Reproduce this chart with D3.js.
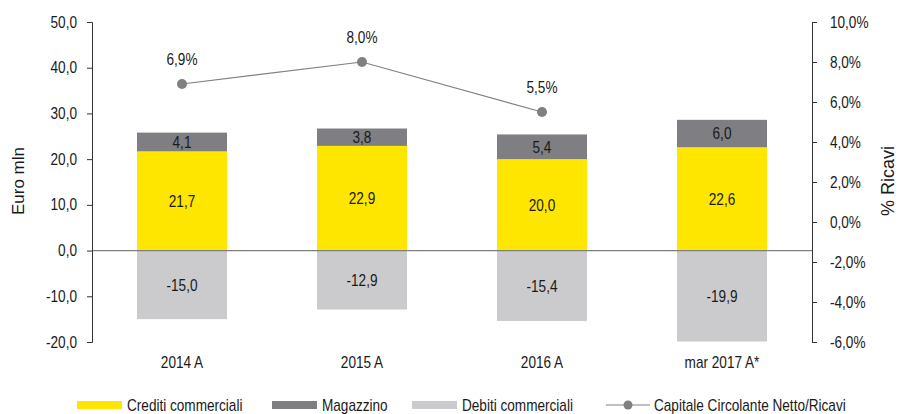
<!DOCTYPE html>
<html>
<head>
<meta charset="utf-8">
<script src="https://cdn.jsdelivr.net/npm/d3@7"></script>
<style>
  body { margin: 0; background: #fff; }
  svg text { font-family: "Liberation Sans Narrow", "Arial Narrow", "Liberation Sans", Arial, sans-serif; }
</style>
</head>
<body>
<div id="chart"></div>
<script>
var width = 899;
var height = 414;

// data
var categories = ["2014 A", "2015 A", "2016 A", "mar 2017 A*"];
var crediti = [21.7, 22.9, 20.0, 22.6];
var magazzino = [4.1, 3.8, 5.4, 6.0];
var debiti = [-15.0, -12.9, -15.4, -19.9];
var ccnRicavi = [6.9, 8.0, 5.5]; // no value for mar 2017
var leftTicks = [-20, -10, 0, 10, 20, 30, 40, 50];
var rightTicks = [-6, -4, -2, 0, 2, 4, 6, 8, 10];
var legendLabels = ["Crediti commerciali", "Magazzino", "Debiti commerciali", "Capitale Circolante Netto/Ricavi"];

var colYellow = "#ffe600";
var colDark = "#7f7e83";
var colLight = "#cbcbcd";
var colLine = "#808080";
var sx = 0.85; // horizontal squeeze, the original uses a narrow font

var it = d3.formatLocale({ decimal: ",", thousands: ".", grouping: [3], currency: ["€", ""], minus: "-" });
var f1 = it.format(".1f");

// squeeze text horizontally keeping its anchor point
function narrow(sel) {
    sel.each(function() {
        var t = d3.select(this);
        var xx = +t.attr("x") || 0;
        t.attr("x", xx / sx);
        var tr = t.attr("transform") || "";
        t.attr("transform", tr + " scale(" + sx + ",1)");
    });
}

var svg = d3.select("#chart").append("svg")
    .attr("width", width)
    .attr("height", height);

var pLeft = 92, pRight = 812, pTop = 22, pBottom = 342;

var x = d3.scaleBand()
    .domain(categories)
    .range([pLeft, pRight])
    .paddingInner(0.5)
    .paddingOuter(0.25);

var y = d3.scaleLinear().domain([-20, 50]).range([pBottom, pTop]);
var y2 = d3.scaleLinear().domain([-6, 10]).range([pBottom, pTop]);

// bars
var bars = svg.append("g");
categories.forEach(function(c, i) {
    var segs = [
        { y0: 0, y1: crediti[i], color: colYellow, v: crediti[i] },
        { y0: crediti[i], y1: crediti[i] + magazzino[i], color: colDark, v: magazzino[i] },
        { y0: 0, y1: debiti[i], color: colLight, v: debiti[i] }
    ];
    segs.forEach(function(s) {
        bars.append("rect")
            .attr("x", x(c))
            .attr("width", x.bandwidth())
            .attr("y", y(Math.max(s.y0, s.y1)))
            .attr("height", Math.abs(y(s.y0) - y(s.y1)))
            .attr("fill", s.color);
        bars.append("text")
            .attr("x", x(c) + x.bandwidth() / 2)
            .attr("y", (y(s.y0) + y(s.y1)) / 2)
            .attr("dy", "0.36em")
            .attr("text-anchor", "middle")
            .attr("font-size", 16)
            .attr("fill", "#1a1a1a")
            .text(f1(s.v));
    });
});

// zero line
svg.append("line")
    .attr("x1", pLeft).attr("x2", pRight)
    .attr("y1", y(0)).attr("y2", y(0))
    .attr("stroke", colLine).attr("stroke-width", 1.2);

// axes
var axL = svg.append("g")
    .attr("transform", "translate(" + pLeft + ",0)")
    .call(d3.axisLeft(y).tickValues(leftTicks).tickFormat(f1).tickSize(5).tickPadding(10));
var axR = svg.append("g")
    .attr("transform", "translate(" + pRight + ",0)")
    .call(d3.axisRight(y2).tickValues(rightTicks).tickFormat(function(d) { return f1(d) + "%"; }).tickSize(5).tickPadding(13));
[axL, axR].forEach(function(a) {
    a.selectAll("path, line").attr("stroke", "#333").attr("stroke-width", 1);
    a.selectAll("text").attr("font-size", 16).attr("fill", "#1a1a1a");
});

// category labels
svg.append("g").selectAll("text")
    .data(categories)
    .enter()
    .append("text")
    .attr("x", function(d) { return x(d) + x.bandwidth() / 2; })
    .attr("y", 362)
    .attr("dy", "0.36em")
    .attr("text-anchor", "middle")
    .attr("font-size", 16)
    .attr("fill", "#1a1a1a")
    .text(function(d) { return d; });

// line
var lineData = ccnRicavi.map(function(v, i) { return { c: categories[i], v: v }; });
var line = d3.line()
    .x(function(d) { return x(d.c) + x.bandwidth() / 2; })
    .y(function(d) { return y2(d.v); });
svg.append("path")
    .datum(lineData)
    .attr("d", line)
    .attr("fill", "none")
    .attr("stroke", colLine)
    .attr("stroke-width", 1.2);
var pts = svg.append("g").selectAll("g")
    .data(lineData)
    .enter()
    .append("g");
pts.append("circle")
    .attr("cx", function(d) { return x(d.c) + x.bandwidth() / 2; })
    .attr("cy", function(d) { return y2(d.v); })
    .attr("r", 5)
    .attr("fill", colLine);
pts.append("text")
    .attr("x", function(d) { return x(d.c) + x.bandwidth() / 2; })
    .attr("y", function(d) { return y2(d.v) - 25; })
    .attr("dy", "0.36em")
    .attr("text-anchor", "middle")
    .attr("font-size", 16)
    .attr("fill", "#1a1a1a")
    .text(function(d) { return f1(d.v) + "%"; });

// legend
var legX = [77, 272, 412, 606];
var legY = 405;
var leg = svg.append("g");
[colYellow, colDark, colLight].forEach(function(c, i) {
    leg.append("rect")
        .attr("x", legX[i]).attr("y", legY - 4)
        .attr("width", 45).attr("height", 8)
        .attr("fill", c);
});
leg.append("line")
    .attr("x1", legX[3]).attr("x2", legX[3] + 44)
    .attr("y1", legY).attr("y2", legY)
    .attr("stroke", colLine).attr("stroke-width", 1.2);
leg.append("circle")
    .attr("cx", legX[3] + 22).attr("cy", legY)
    .attr("r", 4.5).attr("fill", colLine);
legendLabels.forEach(function(t, i) {
    leg.append("text")
        .attr("x", legX[i] + (i == 3 ? 48 : 50))
        .attr("y", legY)
        .attr("dy", "0.36em")
        .attr("font-size", 16)
        .attr("fill", "#1a1a1a")
        .text(t);
});

narrow(svg.selectAll("text"));

// axis titles (not squeezed)
svg.append("text")
    .attr("transform", "translate(18,181) rotate(-90)")
    .attr("dy", "0.36em")
    .attr("text-anchor", "middle")
    .attr("font-size", 17)
    .attr("fill", "#1a1a1a")
    .text("Euro mln");
svg.append("text")
    .attr("transform", "translate(888,181) rotate(-90)")
    .attr("dy", "0.36em")
    .attr("text-anchor", "middle")
    .attr("font-size", 18)
    .attr("fill", "#1a1a1a")
    .text("% Ricavi");
</script>
</body>
</html>
